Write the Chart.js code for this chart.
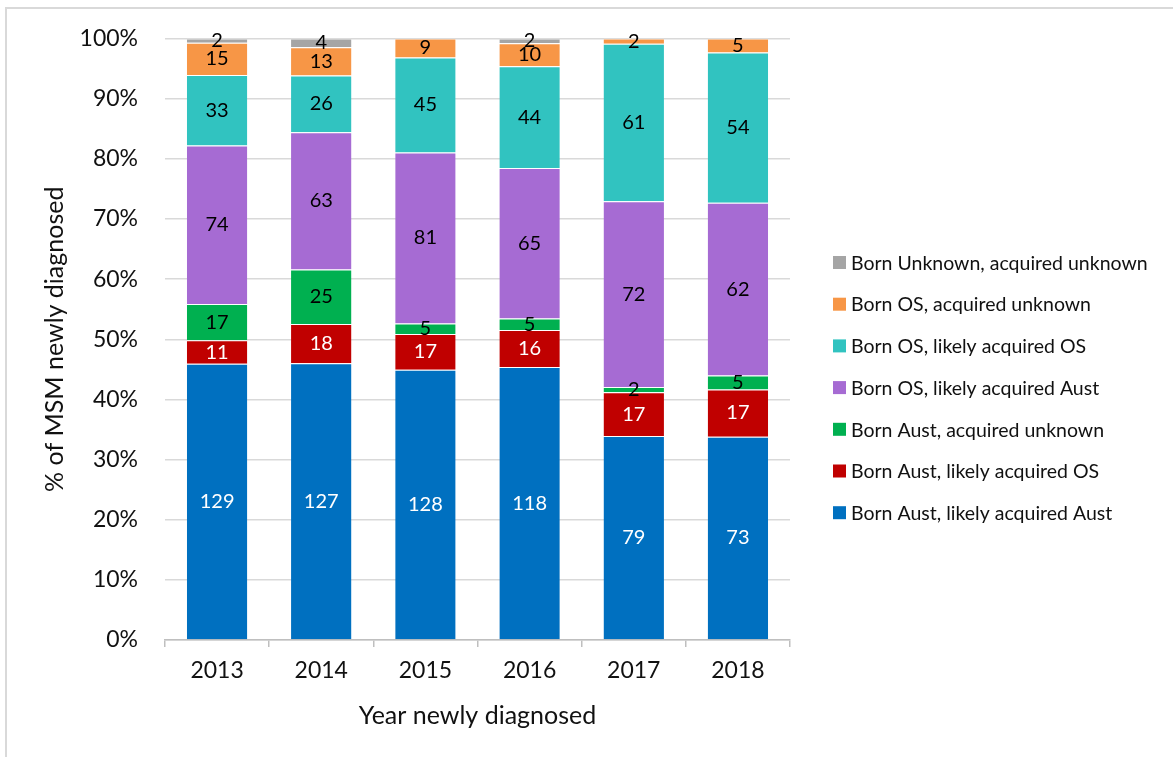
<!DOCTYPE html>
<html>
<head>
<meta charset="utf-8">
<script src="https://cdn.jsdelivr.net/npm/chart.js@4.4.1/dist/chart.umd.min.js"></script>
<style>
  html, body { margin: 0; padding: 0; background: #fff; }
  #wrap {
    position: relative;
    width: 1173px;
    height: 757px;
    box-sizing: border-box;
  }
  /* fine grey frame, only top and left show */
  #frame {
    position: absolute;
    left: 5px; top: 7px; right: -5px; bottom: -5px;
    border-top: 2px solid #d9d9d9;
    border-left: 2px solid #d9d9d9;
    pointer-events: none;
  }
  canvas { position: absolute; left: 0; top: 0; }
</style>
</head>
<body>
<div id="wrap">
  <div id="frame"></div>
  <canvas id="myChart" width="1173" height="757"></canvas>
</div>
<script>
// annees
const years = ["2013", "2014", "2015", "2016", "2017", "2018"];

// nombre de cas par categorie (du bas vers le haut de la barre)
const bornAustAcqAust = [129, 127, 128, 118, 79, 73];
const bornAustAcqOS = [11, 18, 17, 16, 17, 17];
const bornAustAcqUnk = [17, 25, 5, 5, 2, 5];
const bornOSAcqAust = [74, 63, 81, 65, 72, 62];
const bornOSAcqOS = [33, 26, 45, 44, 61, 54];
const bornOSAcqUnk = [15, 13, 9, 10, 2, 5];
const bornUnkAcqUnk = [2, 4, 0, 2, 0, 0];

const seriesNames = [
  "Born Aust, likely acquired Aust",
  "Born Aust, likely acquired OS",
  "Born Aust, acquired unknown",
  "Born OS, likely acquired Aust",
  "Born OS, likely acquired OS",
  "Born OS, acquired unknown",
  "Born Unknown, acquired unknown",
];
const seriesCounts = [
  bornAustAcqAust, bornAustAcqOS, bornAustAcqUnk,
  bornOSAcqAust, bornOSAcqOS, bornOSAcqUnk, bornUnkAcqUnk,
];
const seriesColors = ["#0070c0", "#c00000", "#00b050", "#a66bd3", "#31c3c0", "#f79646", "#a5a5a5"];
const labelColors = ["#fff", "#fff", "#000", "#000", "#000", "#000", "#000"];

// total par annee -> pourcentage
const totals = years.map((y, i) => seriesCounts.reduce((s, arr) => s + arr[i], 0));

const FONT = "Lato, 'Noto Sans', sans-serif";

const datasets = seriesNames.map((name, k) => ({
  label: name,
  data: seriesCounts[k].map((v, i) => (v / totals[i]) * 100),
  counts: seriesCounts[k],
  backgroundColor: seriesColors[k],
  borderColor: "rgba(255,255,255,0.7)",
  borderWidth: { top: 1, left: 0, right: 0, bottom: 0 },
  borderSkipped: false,
  categoryPercentage: 1,
  barPercentage: 0.58,
}));

// affiche le nombre au milieu de chaque segment
const countLabels = {
  id: "countLabels",
  afterDatasetsDraw(chart) {
    const ctx = chart.ctx;
    ctx.save();
    ctx.font = "20px " + FONT;
    ctx.textAlign = "center";
    ctx.textBaseline = "middle";
    chart.data.datasets.forEach((ds, k) => {
      const meta = chart.getDatasetMeta(k);
      meta.data.forEach((bar, i) => {
        const n = ds.counts[i];
        if (!n) return;
        ctx.fillStyle = labelColors[k];
        ctx.fillText(String(n), bar.x, (bar.y + bar.base) / 2);
      });
    });
    ctx.restore();
  },
};

// legende a droite, dans l'ordre inverse (haut de la barre en premier)
const sideLegend = {
  id: "sideLegend",
  afterDraw(chart) {
    const ctx = chart.ctx;
    const area = chart.chartArea;
    const x = area.right + 43;
    let y = area.top + 224;
    ctx.save();
    ctx.font = "19.5px " + FONT;
    ctx.textAlign = "left";
    ctx.textBaseline = "middle";
    for (let k = chart.data.datasets.length - 1; k >= 0; k--) {
      const ds = chart.data.datasets[k];
      ctx.fillStyle = ds.backgroundColor;
      ctx.fillRect(x, y - 6.5, 13, 13);
      ctx.fillStyle = "#111";
      ctx.fillText(ds.label, x + 18, y + 1);
      y += 41.7;
    }
    ctx.restore();
  },
};

const config = {
  type: "bar",
  data: { labels: years, datasets: datasets },
  options: {
    responsive: false,
    animation: false,
    layout: { padding: { left: 36, right: 383, top: 11, bottom: 22 } },
    plugins: {
      legend: { display: false },
      tooltip: { enabled: false },
    },
    scales: {
      x: {
        stacked: true,
        afterFit: (scale) => { scale.height = 95; },
        grid: {
          offset: true,
          drawOnChartArea: false,
          tickLength: 7,
          color: "#bfbfbf",
          lineWidth: 1.5,
        },
        border: { color: "#bfbfbf", width: 1.5 },
        ticks: { color: "#111", padding: 10, font: { family: FONT, size: 23 } },
        title: {
          display: true,
          text: "Year newly diagnosed",
          color: "#111",
          padding: { top: 6 },
          font: { family: FONT, size: 25 },
        },
      },
      y: {
        stacked: true,
        min: 0,
        max: 100,
        afterFit: (scale) => { scale.width = 129; },
        grid: { color: "#d9d9d9", lineWidth: 1.5, drawTicks: false },
        border: { display: false },
        ticks: {
          stepSize: 10,
          padding: 27,
          color: "#111",
          font: { family: FONT, size: 23, lineHeight: 1.0 },
          callback: (v) => v + "%",
        },
        title: {
          display: true,
          text: "% of MSM newly diagnosed",
          color: "#111",
          padding: { top: 4, bottom: 6 },
          font: { family: FONT, size: 25 },
        },
      },
    },
  },
  plugins: [countLabels, sideLegend],
};

let context = document.getElementById("myChart").getContext("2d");
let chart = new Chart(context, config);
</script>
</body>
</html>
